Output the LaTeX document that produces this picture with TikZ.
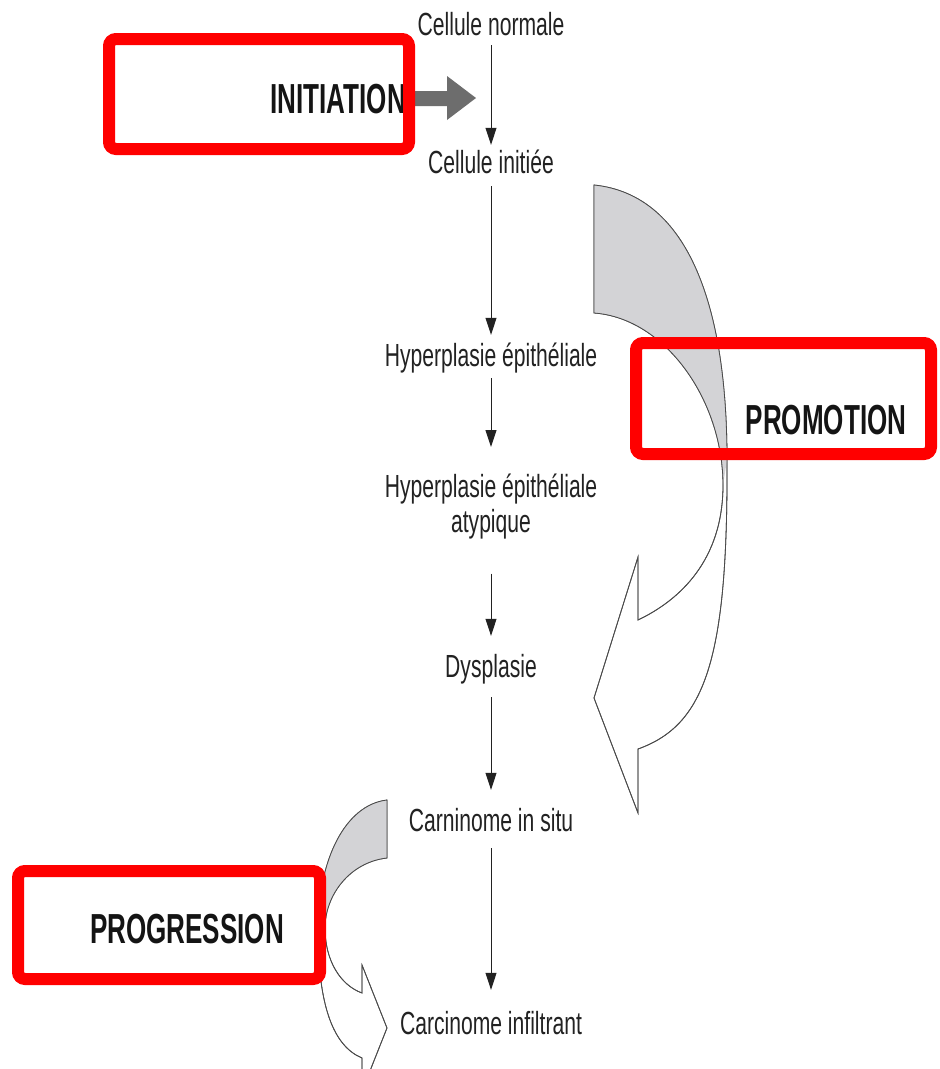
\documentclass[tikz,border=0pt]{standalone}
\usepackage{fontspec}
\setmainfont{Liberation Sans}
\newfontfamily\narrowfont{Liberation Sans}[FakeStretch=0.66]
\newfontfamily\boldnarrow{Liberation Sans}[FakeStretch=0.62]
\usetikzlibrary{arrows.meta}
\definecolor{ribbongray}{HTML}{D3D3D6}
\definecolor{ribbonline}{HTML}{4A4A4A}
\definecolor{initgray}{HTML}{6D6D6D}
\definecolor{txtcol}{HTML}{222222}
\begin{document}
\begin{tikzpicture}[x=1pt,y=-1pt,
  txt/.style={font=\narrowfont\fontsize{32}{35}\selectfont, text=txtcol, inner sep=0pt,
              text height=23pt, text depth=7pt, anchor=base},
  txttwo/.style={font=\narrowfont\fontsize{32}{35}\selectfont, text=txtcol, inner sep=0pt,
              align=center, anchor=north},
  lbl/.style={font=\boldnarrow\bfseries\fontsize{42}{48}\selectfont, text=black!92, inner sep=0pt, anchor=base},
  varrow/.style={draw=txtcol, line width=1pt, -{Triangle[length=17pt,width=11pt]}},
  redbox/.style={draw=red, line width=12pt, rounded corners=7pt},
  ribbon/.style={draw=ribbonline, line width=0.8pt, fill=white, line join=miter},
  ribbonshade/.style={fill=ribbongray}
]
\clip (0,0) rectangle (940,1069);
\fill[white] (0,0) rectangle (940,1069);

% PROMOTION curved arrow
\path[ribbon] (594,185) .. controls (690,195) and (727,310) .. (727,460)
  .. controls (728,660) and (705,725) .. (638,749) -- (638,813) -- (594,698) -- (638,557) -- (638,620)
  .. controls (680,600) and (723,560) .. (723,485)
  .. controls (723,400) and (665,318) .. (594,313) -- cycle;
\fill[ribbonshade] (594,185) .. controls (690,195) and (727,310) .. (727,460) -- (723,485)
  .. controls (723,400) and (665,318) .. (594,313) -- cycle;
\draw[draw=ribbonline, line width=0.8pt, line join=miter] (594,185) .. controls (690,195) and (727,310) .. (727,460)
  .. controls (728,660) and (705,725) .. (638,749) -- (638,813) -- (594,698) -- (638,557) -- (638,620)
  .. controls (680,600) and (723,560) .. (723,485)
  .. controls (723,400) and (665,318) .. (594,313) -- cycle;

% PROGRESSION curved arrow
\path[ribbon] (387,800) .. controls (345,805) and (318,860) .. (318,930)
  .. controls (318,1005) and (333,1046) .. (362,1058) -- (362,1091) -- (387,1028) -- (362,965) -- (362,993)
  .. controls (340,985) and (325,960) .. (325,928)
  .. controls (325,895) and (350,862) .. (387,858) -- cycle;
\fill[ribbonshade] (387,800) .. controls (345,805) and (318,860) .. (318,930) -- (325,928)
  .. controls (325,895) and (350,862) .. (387,858) -- cycle;
\draw[draw=ribbonline, line width=0.8pt, line join=miter] (387,800) .. controls (345,805) and (318,860) .. (318,930)
  .. controls (318,1005) and (333,1046) .. (362,1058) -- (362,1091) -- (387,1028) -- (362,965) -- (362,993)
  .. controls (340,985) and (325,960) .. (325,928)
  .. controls (325,895) and (350,862) .. (387,858) -- cycle;

% INITIATION block arrow
\fill[initgray] (415,91) -- (447,91) -- (447,76) -- (476,98) -- (447,120) -- (447,106) -- (415,106) -- cycle;

% box interiors
\fill[white] (18,871) rectangle (320,979);

% stage texts
\node[txt] (n1) at (491,35) {Cellule normale};
\node[txt] (n2) at (491,173) {Cellule initiée};
\node[txt] (n3) at (491,366) {Hyperplasie épithéliale};
\node[txttwo] (n4) at (491,474) {Hyperplasie épithéliale\\atypique};
\node[txt] (n5) at (491,677) {Dysplasie};
\node[txt] (n6) at (491,831) {Carninome in situ};
\node[txt] (n7) at (491,1034) {Carcinome infiltrant};

% phase labels
\node[lbl, anchor=base east] (initiation) at (406,113) {INITIATION};
\node[lbl] (promotion) at (826,434) {PROMOTION};
\node[lbl] (progression) at (187,943) {PROGRESSION};

% red frames
\draw[redbox] (109,39) rectangle (409,149);
\draw[redbox] (636,343) rectangle (931,454);
\draw[redbox] (18,871) rectangle (320,979);

% vertical arrows
\draw[varrow, shorten <=3pt, shorten >=5pt] (n1.south) -- (n2.north);
\draw[varrow, shorten <=6pt, shorten >=8pt] (n2.south) -- (n3.north);
\draw[varrow, shorten <=5pt, shorten >=27pt] (n3.south) -- (n4.north);
\draw[varrow, shorten <=34pt, shorten >=18pt] (n4.south) -- (n5.north);
\draw[varrow, shorten <=13pt, shorten >=18pt] (n5.south) -- (n6.north);
\draw[varrow, shorten <=10pt, shorten >=21pt] (n6.south) -- (n7.north);
\end{tikzpicture}
\end{document}
